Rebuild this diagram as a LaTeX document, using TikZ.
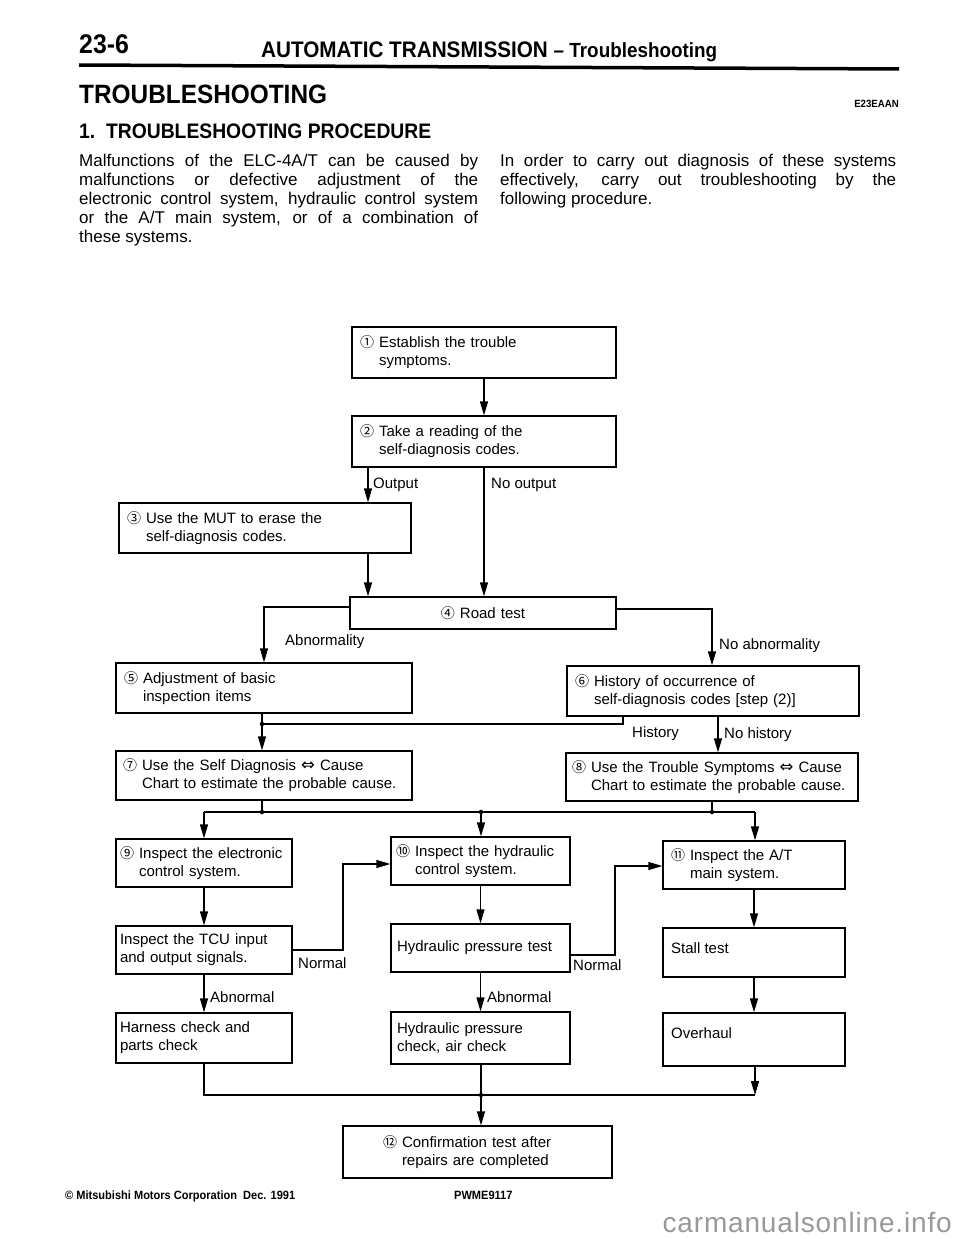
\documentclass[tikz,border=0pt]{standalone}
\usepackage{fontspec}
\setmainfont{Liberation Sans}
\newfontfamily\symfont{DejaVu Sans}
\newfontfamily\cjkfont{Noto Sans CJK JP}
\newfontfamily\hdfont[FakeStretch=0.92]{Liberation Sans}
\newfontfamily\wmfont[LetterSpace=3]{Liberation Sans}
\usetikzlibrary{arrows.meta,calc}
\newcommand\fs[2]{\fontsize{#1}{#2}\selectfont}
\newcommand\cn[1]{{\cjkfont\fs{14}{14}#1}}
\newcommand\hind[1]{\hphantom{\cn{#1}\ }}
\newcommand\ar{{\symfont\fs{16.5}{14}⇔}}
\begin{document}
\begin{tikzpicture}[x=1pt,y=-1pt,
  box/.style={draw, line width=1.3pt, inner ysep=0pt, inner xsep=8pt, align=left, font=\fs{15}{18}},
  txt/.style={font=\fs{15}{18}, inner sep=0pt},
  lab/.style={font=\fs{15}{18}, inner sep=0pt, anchor=west},
  arr/.style={line width=1.3pt, -{Triangle[length=14pt,width=8pt]}},
  ln/.style={line width=1.3pt},
  dot/.style={circle, fill, inner sep=0pt, minimum size=4.5pt},
  para/.style={font=\fs{17}{19}, inner sep=0pt, anchor=base west},
  hd/.style={inner sep=0pt, anchor=base west},
]
\useasboundingbox (0,0) rectangle (960,1239);
\fill[white] (0,0) rectangle (960,1239);

% ---------- header ----------
\node[hd, font=\hdfont\bfseries\fs{27}{27}] (pg) at (79,54) {23-6};
\node[hd, font=\hdfont\bfseries\fs{22.5}{22}] (ht) at (261,58) {AUTOMATIC TRANSMISSION {\fs{20.5}{20}– Troubleshooting}};
\draw[line width=3.5pt] (79,65) -- (899,69);
\node[hd, font=\hdfont\bfseries\fs{26.5}{26}] (h1) at (79,103) {TROUBLESHOOTING};
\node[inner sep=0pt, anchor=base east, font=\hdfont\bfseries\fs{10.5}{11}] (code) at (899,107) {E23EAAN};
\node[hd, font=\hdfont\bfseries\fs{21}{21}] (h2) at (79,138) {1.\ \ TROUBLESHOOTING PROCEDURE};

% ---------- paragraphs ----------
\node[para] (p1) at (79,166) {\makebox[399pt][s]{Malfunctions of the ELC-4A/T can be caused by}};
\node[para] (p2) at (79,185) {\makebox[399pt][s]{malfunctions or defective adjustment of the}};
\node[para] (p3) at (79,204) {\makebox[399pt][s]{electronic control system, hydraulic control system}};
\node[para] (p4) at (79,223) {\makebox[399pt][s]{or the A/T main system, or of a combination of}};
\node[para] (p5) at (79,242) {these systems.};
\node[para] (q1) at (500,166) {\makebox[396pt][s]{In order to carry out diagnosis of these systems}};
\node[para] (q2) at (500,185) {\makebox[396pt][s]{effectively, carry out troubleshooting by the}};
\node[para] (q3) at (500,204) {following procedure.};

% ---------- boxes ----------
\node[box, minimum width=264pt, minimum height=51pt, text width=248pt] (b1) at (484,352.5)
  {\mbox{\cn{①} Establish the trouble}\\\mbox{\hind{①}symptoms.}};
\node[box, minimum width=264pt, minimum height=51pt, text width=248pt] (b2) at (484,441.5)
  {\mbox{\cn{②} Take a reading of the}\\\mbox{\hind{②}self-diagnosis codes.}};
\node[box, minimum width=292pt, minimum height=50pt, text width=276pt] (b3) at (265,528)
  {\mbox{\cn{③} Use the MUT to erase the}\\\mbox{\hind{③}self-diagnosis codes.}};
\node[box, minimum width=266pt, minimum height=32pt, text width=250pt, align=center] (b4) at (483,613)
  {\mbox{\cn{④} Road test}};
\node[box, minimum width=296pt, minimum height=50pt, text width=280pt] (b5) at (264,688)
  {\mbox{\cn{⑤} Adjustment of basic}\\\mbox{\hind{⑤}inspection items}};
\node[box, minimum width=292pt, minimum height=50pt, text width=276pt] (b6) at (713,691)
  {\mbox{\cn{⑥} History of occurrence of}\\\mbox{\hind{⑥}self-diagnosis codes [step (2)]}};
\node[box, minimum width=296pt, minimum height=49pt, inner xsep=7pt, text width=282pt] (b7) at (264,775.5)
  {\mbox{\cn{⑦} Use the Self Diagnosis \ar{} Cause}\\\mbox{\hind{⑦}Chart to estimate the probable cause.}};
\node[box, minimum width=292pt, minimum height=48pt, inner xsep=6pt, text width=280pt] (b8) at (712,777)
  {\mbox{\cn{⑧} Use the Trouble Symptoms \ar{} Cause}\\\mbox{\hind{⑧}Chart to estimate the probable cause.}};
\node[box, minimum width=176pt, minimum height=48pt, inner xsep=4pt, text width=168pt] (b9) at (204,863)
  {\mbox{\cn{⑨} Inspect the electronic}\\\mbox{\hind{⑨}control system.}};
\node[box, minimum width=179pt, minimum height=48pt, inner xsep=5pt, text width=169pt] (b10) at (480.5,861)
  {\mbox{\cn{⑩} Inspect the hydraulic}\\\mbox{\hind{⑩}control system.}};
\node[box, minimum width=182pt, minimum height=48pt, text width=166pt] (b11) at (754,865)
  {\mbox{\cn{⑪} Inspect the A/T}\\\mbox{\hind{⑪}main system.}};
\node[box, minimum width=176pt, minimum height=48pt, inner xsep=4pt, text width=168pt] (tcu) at (204,950)
  {\mbox{Inspect the TCU input}\\\mbox{and output signals.}};
\node[box, minimum width=179pt, minimum height=48pt, inner xsep=6pt, text width=167pt] (hpt) at (480.5,948)
  {\mbox{Hydraulic pressure test}};
\node[box, minimum width=182pt, minimum height=49pt] (stall) at (754,952.5) {};
\node[txt, anchor=base west] (tst) at (671,953) {Stall test};
\node[box, minimum width=176pt, minimum height=50pt, inner xsep=4pt, text width=168pt] (harness) at (204,1038)
  {\mbox{Harness check and}\\\mbox{parts check}};
\node[box, minimum width=179pt, minimum height=52pt, inner xsep=6pt, text width=167pt] (hpc) at (480.5,1038)
  {\mbox{Hydraulic pressure}\\\mbox{check, air check}};
\node[box, minimum width=182pt, minimum height=53pt] (overhaul) at (754,1039.5) {};
\node[txt, anchor=base west] (tov) at (671,1038) {Overhaul};
\node[box, minimum width=269pt, minimum height=52pt, inner xsep=40pt, text width=189pt] (b12) at (477.5,1152)
  {\mbox{\cn{⑫} Confirmation test after}\\\mbox{\hind{⑫}repairs are completed}};

% ---------- coordinates ----------
\coordinate (xA) at (368,0);
\coordinate (xB) at (484,0);
\coordinate (j1) at (264,607);
\coordinate (j2) at (712,609);
\coordinate (j3) at (623,724);
\coordinate (j4) at (262,724);
\coordinate (xH) at (718,0);
\coordinate (k0) at (204,812);
\coordinate (k1) at (262,812);
\coordinate (k2) at (481,812);
\coordinate (k3) at (712,812);
\coordinate (k4) at (755,812);
\coordinate (n1) at (343,950);
\coordinate (n1b) at (343,864);
\coordinate (n2) at (615,955);
\coordinate (n2b) at (615,866);
\coordinate (m0) at (204,1095);
\coordinate (m1) at (481,1095);
\coordinate (m2) at (755,1095);

% ---------- connectors ----------
\draw[arr] (b1) -- (b2);
\draw[arr] (b2.south -| xA) -- (b3.north -| xA);
\draw[arr] (b2.south -| xB) -- (b4.north -| xB);
\draw[arr] (b3.south -| xA) -- (b4.north -| xA);
\draw[arr] (b4.west |- j1) -- (j1) -- (b5.north -| j1);
\draw[arr] (b4.east |- j2) -- (j2) -- (b6.north -| j2);
\draw[ln] (b6.south -| j3) -- (j3) -- (j4);
\draw[arr] (b5.south -| j4) -- (b7.north -| j4);
\node[dot] (d1) at (j4) {};
\draw[arr] (b6.south -| xH) -- (b8.north -| xH);
\draw[ln] (b7.south -| k1) -- (k1);
\draw[ln] (b8.south -| k3) -- (k3);
\draw[ln] (k0) -- (k4);
\node[dot] (d2) at (k1) {};
\node[dot] (d3) at (k2) {};
\node[dot] (d4) at (k3) {};
\draw[arr] (k0) -- (b9.north -| k0);
\draw[arr] (k2) -- (b10.north -| k2);
\draw[arr] (k4) -- (b11.north -| k4);
\draw[arr] (b9) -- (tcu);
\draw[arr] (tcu.east |- n1) -- (n1) -- (n1b) -- (b10.west |- n1b);
\draw[arr] (b10) -- (hpt);
\draw[arr] (hpt.east |- n2) -- (n2) -- (n2b) -- (b11.west |- n2b);
\draw[arr] (b11) -- (stall);
\draw[arr] (tcu) -- (harness);
\draw[arr] (hpt) -- (hpc);
\draw[arr] (stall) -- (overhaul);
\draw[ln] (harness.south -| m0) -- (m0) -- (m2);
\draw[arr] (overhaul.south -| m2) -- (m2);
\draw[arr] (hpc.south -| m1) -- (b12.north -| m1);
\node[dot] (d5) at (m1) {};

% ---------- labels ----------
\node[lab] (l1) at (373,485) {Output};
\node[lab] (l2) at (491,485) {No output};
\node[lab] (l3) at (285,642) {Abnormality};
\node[lab] (l4) at (719,646) {No abnormality};
\node[lab] (l5) at (632,734) {History};
\node[lab] (l6) at (724,735) {No history};
\node[lab] (l7) at (298,963) {Normal};
\node[lab] (l8) at (573,965) {Normal};
\node[lab] (l9) at (210,997) {Abnormal};
\node[lab] (l10) at (487,997) {Abnormal};

% ---------- footer ----------
\node[hd, font=\hdfont\bfseries\fs{12}{12}] (f1) at (65,1199) {© Mitsubishi Motors Corporation\ \ Dec. 1991};
\node[hd, font=\hdfont\bfseries\fs{12}{12}] (f2) at (454,1199) {PWME9117};
\node[inner sep=0pt, anchor=base east, font=\wmfont\fs{28}{28}, text=black!40] (wm) at (952,1232) {carmanualsonline.info};
\end{tikzpicture}
\end{document}
